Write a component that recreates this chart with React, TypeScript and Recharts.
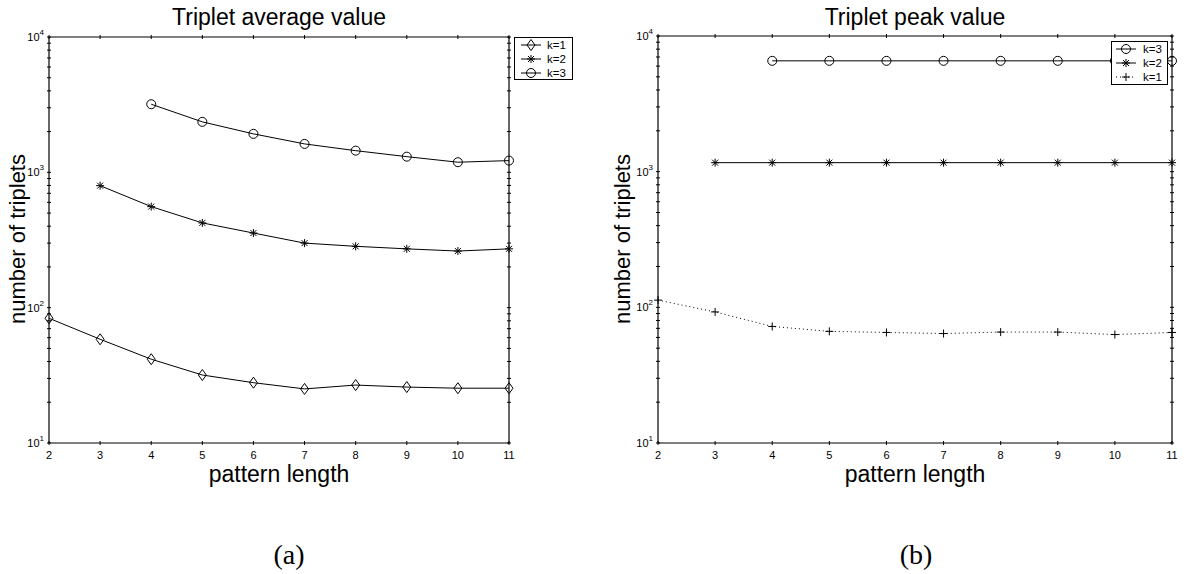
import React from 'react'
import { LineChart, Line, XAxis, YAxis, Legend } from 'recharts'

const patternLength = [2, 3, 4, 5, 6, 7, 8, 9, 10, 11]

// (a) triplet average value per k
const avgK1 = [83.5, 58.4, 41.6, 31.8, 27.9, 25.1, 26.8, 25.9, 25.4, 25.4]
const avgK2 = [null, 797, 558, 423, 356, 300, 284, 272, 262, 272]
const avgK3 = [null, null, 3186, 2360, 1924, 1622, 1446, 1306, 1188, 1221]

// (b) triplet peak value per k
const peakK1 = [113, 92.5, 72.3, 66.5, 65.3, 64.1, 65.7, 65.7, 63.0, 65.3]
const peakK2 = [null, 1165, 1165, 1165, 1165, 1165, 1165, 1165, 1165, 1165]
const peakK3 = [null, null, 6561, 6561, 6561, 6561, 6561, 6561, 6561, 6561]

const yTicks = [
  10, 20, 30, 40, 50, 60, 70, 80, 90,
  100, 200, 300, 400, 500, 600, 700, 800, 900,
  1000, 2000, 3000, 4000, 5000, 6000, 7000, 8000, 9000,
  10000,
]

const FONT = '"Liberation Sans", Arial, Helvetica, sans-serif'
const SERIF = '"Liberation Serif", "Times New Roman", serif'
const CHART_W = 594
const CHART_H = 574
const AXIS_BOTTOM = 443

type Shape = 'diamond' | 'star' | 'circle' | 'plus'

type Series = {
  key: string
  name: string
  shape: Shape
  dotted?: boolean
  values: (number | null)[]
}

function markerPath(shape: Shape, cx: number, cy: number) {
  switch (shape) {
    case 'diamond':
      return `M${cx},${cy - 5.5}L${cx + 4},${cy}L${cx},${cy + 5.5}L${cx - 4},${cy}Z`
    case 'star':
      return `M${cx - 4},${cy}H${cx + 4}M${cx},${cy - 4}V${cy + 4}M${cx - 3},${cy - 3}L${cx + 3},${cy + 3}M${cx - 3},${cy + 3}L${cx + 3},${cy - 3}`
    case 'plus':
      return `M${cx - 4},${cy}H${cx + 4}M${cx},${cy - 4}V${cy + 4}`
    default:
      return ''
  }
}

function Marker({ shape, cx, cy }: { shape: Shape; cx: number; cy: number }) {
  if (shape === 'circle') {
    return <circle cx={cx} cy={cy} r={4.5} fill="none" stroke="#000" strokeWidth={1} />
  }
  return <path d={markerPath(shape, cx, cy)} fill="none" stroke="#000" strokeWidth={1} />
}

const renderDot = (shape: Shape) => (props: any) => {
  const { cx, cy, value, index } = props
  if (value == null || cx == null || cy == null) return <g key={`e-${index}`} />
  return (
    <g key={`d-${index}`}>
      <Marker shape={shape} cx={cx} cy={cy} />
    </g>
  )
}

// matlab-style ticks: short marks pointing into the box
const LeftTick = ({ x, y, payload }: any) => {
  const v = payload.value
  const exp = Math.round(Math.log10(v))
  const major = Math.abs(Math.pow(10, exp) - v) < 1e-6
  return (
    <g>
      <line x1={x} x2={x + 4} y1={y} y2={y} stroke="#000" strokeWidth={1} />
      {major && (
        <text x={x - 3} y={y + 4} textAnchor="end" fontSize={11} fontFamily={FONT} fill="#000">
          10
          <tspan dy={-6} fontSize={8}>{exp}</tspan>
        </text>
      )}
    </g>
  )
}

const RightTick = ({ x, y }: any) => (
  <line x1={x} x2={x - 4} y1={y} y2={y} stroke="#000" strokeWidth={1} />
)

const BottomTick = ({ x, y, payload }: any) => (
  <g>
    <line x1={x} x2={x} y1={y} y2={y - 4} stroke="#000" strokeWidth={1} />
    <text x={x} y={y + 14} textAnchor="middle" fontSize={11} fontFamily={FONT} fill="#000">
      {payload.value}
    </text>
  </g>
)

const TopTick = ({ x, y }: any) => (
  <line x1={x} x2={x} y1={y} y2={y + 4} stroke="#000" strokeWidth={1} />
)

type LegendLayout = {
  left: number
  top: number
  width: number
  height: number
  lineFrom: number
  lineTo: number
  textX: number
}

function LegendBox({ series, layout }: { series: Series[]; layout: LegendLayout }) {
  const mid = (layout.lineFrom + layout.lineTo) / 2
  return (
    <div
      style={{
        width: layout.width,
        height: layout.height,
        boxSizing: 'border-box',
        border: '1px solid #000',
        background: '#fff',
        fontFamily: FONT,
        fontSize: 11.5,
        color: '#000',
      }}
    >
      {series.map((s) => (
        <div key={s.key} style={{ position: 'relative', height: 14, lineHeight: '14px' }}>
          <svg width={layout.textX} height={14} style={{ position: 'absolute', left: 0, top: 0 }}>
            <line
              x1={layout.lineFrom}
              x2={layout.lineTo}
              y1={7}
              y2={7}
              stroke="#000"
              strokeWidth={1}
              strokeDasharray={s.dotted ? '1 3' : undefined}
            />
            <Marker shape={s.shape} cx={mid} cy={7} />
          </svg>
          <span style={{ position: 'absolute', left: layout.textX, top: 0, color: '#000' }}>{s.name}</span>
        </div>
      ))}
    </div>
  )
}

function Panel({
  series,
  plotLeft,
  plotRight,
  plotTop,
  legend,
}: {
  series: Series[]
  plotLeft: number
  plotRight: number
  plotTop: number
  legend: LegendLayout
}) {
  const data = patternLength.map((x, i) => {
    const row: Record<string, number | null> = { x }
    series.forEach((s) => {
      row[s.key] = s.values[i]
    })
    return row
  })
  const axisLine = { stroke: '#000', strokeWidth: 1.2 }
  return (
    <LineChart
      width={CHART_W}
      height={CHART_H}
      data={data}
      margin={{ top: plotTop - 5, right: CHART_W - plotRight - 5, bottom: CHART_H - AXIS_BOTTOM - 30, left: 0 }}
    >
      <XAxis
        xAxisId="b"
        dataKey="x"
        type="number"
        domain={[2, 11]}
        ticks={patternLength}
        interval={0}
        height={30}
        tickSize={0}
        tickLine={false}
        axisLine={axisLine}
        tick={<BottomTick />}
      />
      <XAxis
        xAxisId="t"
        orientation="top"
        dataKey="x"
        type="number"
        domain={[2, 11]}
        ticks={patternLength}
        interval={0}
        height={5}
        tickSize={0}
        tickLine={false}
        axisLine={axisLine}
        tick={<TopTick />}
      />
      <YAxis
        yAxisId="l"
        type="number"
        scale="log"
        domain={[10, 10000]}
        allowDataOverflow
        ticks={yTicks}
        interval={0}
        width={plotLeft}
        tickSize={0}
        tickLine={false}
        axisLine={axisLine}
        tick={<LeftTick />}
      />
      <YAxis
        yAxisId="r"
        orientation="right"
        type="number"
        scale="log"
        domain={[10, 10000]}
        allowDataOverflow
        ticks={yTicks}
        interval={0}
        width={5}
        tickSize={0}
        tickLine={false}
        axisLine={axisLine}
        tick={<RightTick />}
      />
      {series.map((s) => (
        <Line
          key={s.key}
          xAxisId="b"
          yAxisId="l"
          type="linear"
          dataKey={s.key}
          name={s.name}
          stroke="#000"
          strokeWidth={1}
          strokeDasharray={s.dotted ? '1 3' : undefined}
          dot={renderDot(s.shape)}
          activeDot={false}
          isAnimationActive={false}
        />
      ))}
      <Legend
        layout="vertical"
        align="center"
        verticalAlign="middle"
        wrapperStyle={{ left: legend.left, top: legend.top, width: legend.width, height: legend.height }}
        content={() => <LegendBox series={series} layout={legend} />}
      />
    </LineChart>
  )
}

const averageSeries: Series[] = [
  { key: 'k1', name: 'k=1', shape: 'diamond', values: avgK1 },
  { key: 'k2', name: 'k=2', shape: 'star', values: avgK2 },
  { key: 'k3', name: 'k=3', shape: 'circle', values: avgK3 },
]

const peakSeries: Series[] = [
  { key: 'k3', name: 'k=3', shape: 'circle', values: peakK3 },
  { key: 'k2', name: 'k=2', shape: 'star', values: peakK2 },
  { key: 'k1', name: 'k=1', shape: 'plus', dotted: true, values: peakK1 },
]

export default function App() {
  const label = { fontFamily: FONT, fontSize: 23, fill: '#000' }
  return (
    <div style={{ position: 'absolute', left: 0, top: 0, width: 1188, height: 574, background: '#fff' }}>
      <div style={{ position: 'absolute', left: 0, top: 0 }}>
        <Panel
          series={averageSeries}
          plotLeft={49}
          plotRight={509}
          plotTop={37}
          legend={{ left: 514, top: 37, width: 59, height: 43, lineFrom: 6, lineTo: 26, textX: 32 }}
        />
      </div>
      <div style={{ position: 'absolute', left: 594, top: 0 }}>
        <Panel
          series={peakSeries}
          plotLeft={64}
          plotRight={578}
          plotTop={36}
          legend={{ left: 517, top: 41, width: 57, height: 44, lineFrom: 4, lineTo: 24, textX: 31 }}
        />
      </div>
      <svg width={1188} height={574} style={{ position: 'absolute', left: 0, top: 0, pointerEvents: 'none' }}>
        <text x={279} y={25} textAnchor="middle" {...label}>Triplet average value</text>
        <text x={915} y={25} textAnchor="middle" {...label}>Triplet peak value</text>
        <text x={279} y={482} textAnchor="middle" {...label}>pattern length</text>
        <text x={915} y={482} textAnchor="middle" {...label}>pattern length</text>
        <text x={25} y={239} textAnchor="middle" transform="rotate(-90 25 239)" {...label} fontSize={22}>
          number of triplets
        </text>
        <text x={630} y={239} textAnchor="middle" transform="rotate(-90 630 239)" {...label} fontSize={22}>
          number of triplets
        </text>
        <text x={289} y={564} textAnchor="middle" fontFamily={SERIF} fontSize={28}>
          (a)
        </text>
        <text x={916} y={564} textAnchor="middle" fontFamily={SERIF} fontSize={28}>
          (b)
        </text>
      </svg>
    </div>
  )
}
